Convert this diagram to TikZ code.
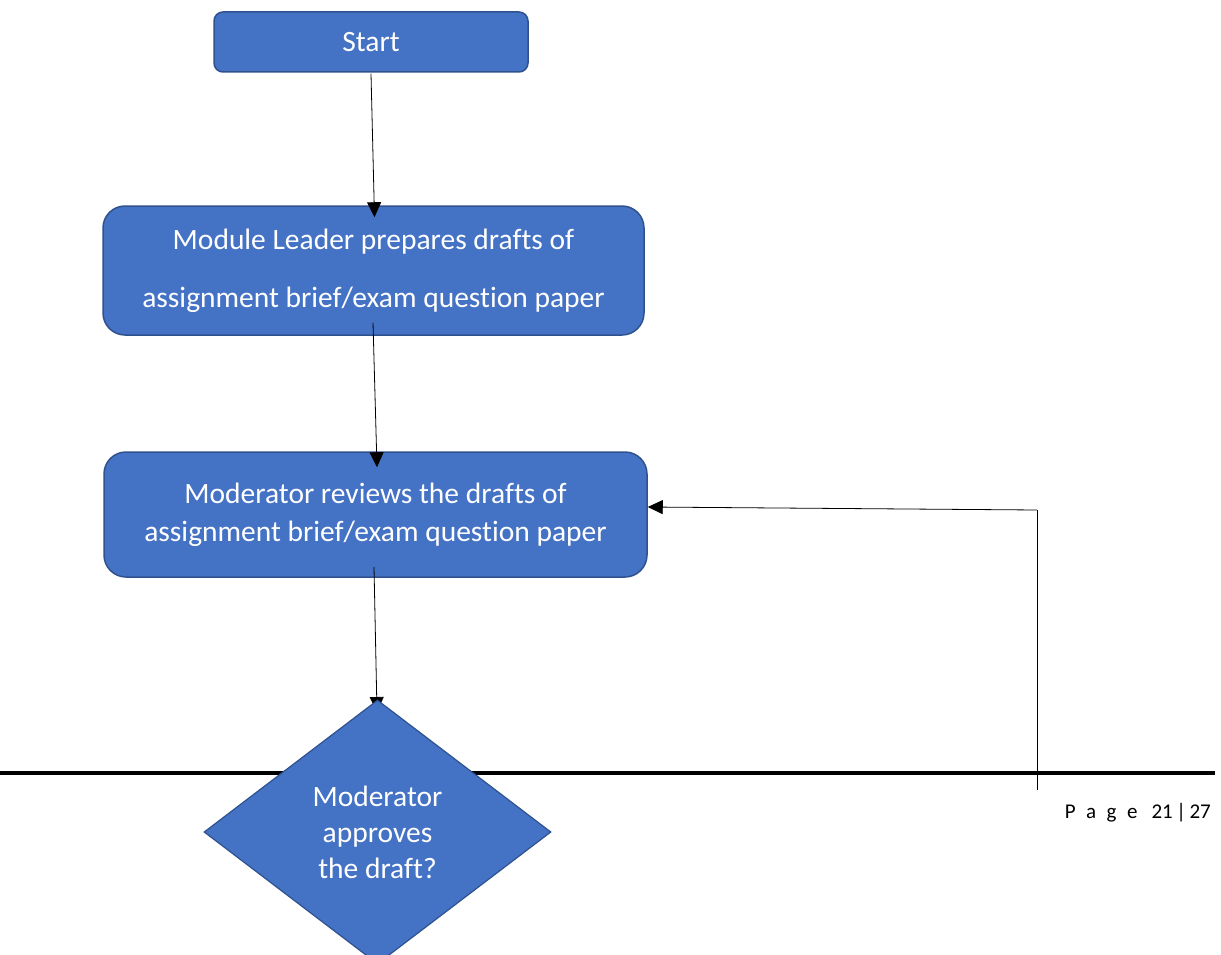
\documentclass[tikz,border=0pt]{standalone}
\usepackage{fontspec}
\setmainfont{Carlito}[Ligatures=NoCommon]
\usetikzlibrary{shapes.geometric,arrows.meta}
\definecolor{boxfill}{HTML}{4472C4}
\definecolor{boxline}{HTML}{2F528F}
\tikzset{
  procbox/.style={draw=boxline, line width=1.5pt, fill=boxfill, text=white, align=center, font=\fontsize{29.5}{35}\selectfont, inner sep=0pt},
  decbox/.style={diamond, draw=boxline, line width=1.2pt, fill=boxfill, text=white, align=center, font=\fontsize{29.5}{36}\selectfont, inner sep=0pt, aspect=1.31},
  conn/.style={line width=0.8pt, -{Triangle[width=14pt,length=15pt]}},
  plainline/.style={line width=0.8pt}
}
\begin{document}
\begin{tikzpicture}[x=1pt,y=-1pt]
\useasboundingbox (0,0) rectangle (1221,955);
\clip (0,0) rectangle (1221,955);
% footer rule
\draw[line width=4pt] (0,773) -- (1215,773);
\node[anchor=east, font=\fontsize{21}{24}\selectfont, inner sep=0pt] (page) at (1211,813) {P\,\,\,a\,\,\,g\,\,\,e\,\,\,\,21\,|\,27};
% boxes
\node[procbox, minimum width=314pt, minimum height=60pt, rounded corners=9pt] (start) at (371,42) {\raisebox{-3pt}{Start}};
\node[procbox, minimum width=541pt, minimum height=129pt, rounded corners=22pt, font=\fontsize{29.5}{58}\selectfont] (prep) at (373.5,270.5) {\raisebox{-2pt}{Module Leader prepares drafts of}\\\raisebox{-2pt}{assignment brief/exam question paper}};
\node[procbox, minimum width=543pt, minimum height=125pt, rounded corners=22pt, font=\fontsize{29.5}{38}\selectfont] (review) at (375.5,514.5) {\raisebox{3pt}{Moderator reviews the drafts of}\\\raisebox{3pt}{assignment brief/exam question paper}};
% connectors
\draw[conn] ([yshift=-1pt]start.south) -- ([xshift=1pt,yshift=-12pt]prep.north);
\draw[conn] ([xshift=-0.5pt,yshift=13pt]prep.south) -- ([xshift=1.5pt,yshift=-16pt]review.north);
\coordinate (rv) at (374,567);
\coordinate (dtop) at (377,712);
\draw[conn] (rv) -- (dtop);
% decision
\node[decbox, minimum width=347pt, minimum height=264pt] (dec) at (377.5,832) {Moderator\\approves\\the draft?};
% feedback loop
\coordinate (fb0) at (1037,790);
\coordinate (fb1) at (1037,510);
\draw[plainline] (fb0) -- (fb1);
\draw[conn] (fb1) -- ([yshift=7.5pt]review.east);
\end{tikzpicture}
\end{document}
